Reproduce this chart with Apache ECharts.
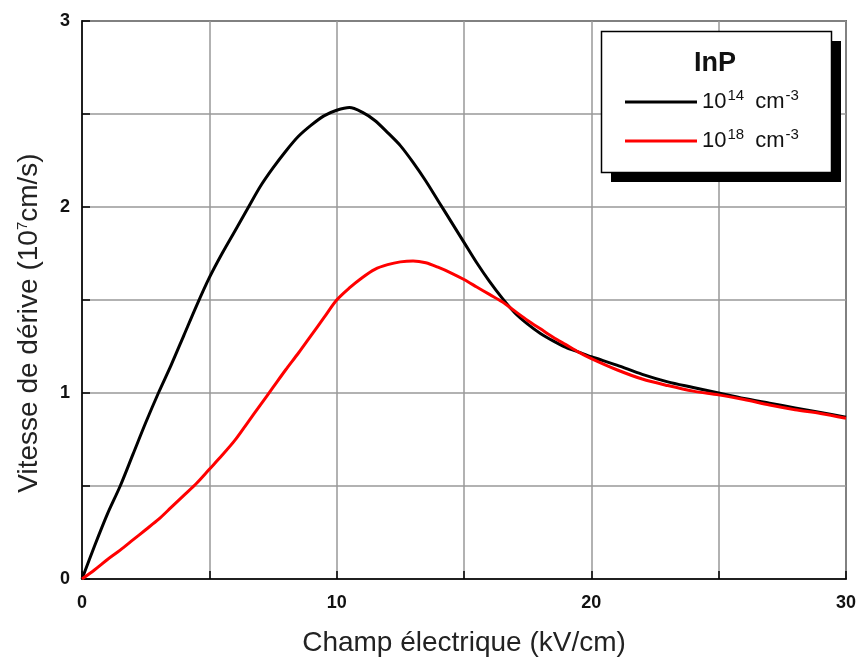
<!DOCTYPE html>
<html>
<head>
<meta charset="utf-8">
<script src="https://cdn.jsdelivr.net/npm/echarts@6/dist/echarts.min.js"></script>
<style>html,body{margin:0;padding:0;background:#fff}#c{width:857px;height:661px}</style>
</head>
<body>
<div id="c"></div>
<script>
// Electric field (kV/cm)
const fieldKV = [0,0.5,1,1.5,2,2.5,3,3.5,4,4.5,5,5.5,6,6.5,7,7.5,8,8.5,9,9.5,10,10.5,11,11.5,12,12.5,13,13.5,14,14.5,15,15.5,16,16.5,17,17.5,18,18.5,19,19.5,20,21,22,23,24,25,26,27,28,29,30];
// Drift velocity (1e7 cm/s), doping 1e14 cm^-3
const v1e14 = [0,0.18,0.35,0.5,0.67,0.84,1.0,1.15,1.31,1.47,1.62,1.75,1.87,1.99,2.11,2.21,2.30,2.38,2.44,2.49,2.52,2.535,2.51,2.465,2.40,2.33,2.24,2.14,2.03,1.92,1.81,1.70,1.60,1.51,1.43,1.37,1.32,1.28,1.245,1.22,1.195,1.15,1.10,1.06,1.03,1.0,0.97,0.945,0.92,0.895,0.87];
// Drift velocity (1e7 cm/s), doping 1e18 cm^-3
const v1e18 = [0,0.05,0.105,0.155,0.21,0.265,0.32,0.385,0.45,0.515,0.59,0.665,0.745,0.84,0.935,1.03,1.125,1.215,1.31,1.405,1.50,1.565,1.62,1.665,1.69,1.705,1.71,1.70,1.675,1.645,1.61,1.57,1.53,1.49,1.44,1.39,1.345,1.30,1.26,1.22,1.185,1.125,1.075,1.04,1.01,0.99,0.965,0.935,0.91,0.89,0.864];
const seriesNames = ['1e14', '1e18'];
const seriesLabels = {'1e14': '10{sup|14} cm{sup|-3}', '1e18': '10{sup|18} cm{sup|-3}'};
const xTickLabels = [0, 10, 20, 30];
const yTickLabels = [0, 1, 2, 3];
const legendTitle = 'InP';
const xTitle = 'Champ électrique (kV/cm)';
const yTitle = 'Vitesse de dérive (10{sup|7}cm/s)';

const FONT = '"Liberation Sans", Arial, sans-serif';
const pairs = (ys) => fieldKV.map((x, i) => [x, ys[i]]);

const chart = echarts.init(document.getElementById('c'), null, {renderer: 'canvas'});
chart.setOption({
  animation: false,
  backgroundColor: '#fff',
  grid: {left: 82, right: 11, top: 21, bottom: 82, containLabel: false, outerBoundsMode: 'none',
         show: true, borderColor: '#000', borderWidth: 1.5, backgroundColor: 'transparent'},
  xAxis: {
    type: 'value', min: 0, max: 30, interval: 5,
    axisLine: {show: true, lineStyle: {color: '#000', width: 1.5}},
    axisTick: {show: true, inside: true, length: 8, lineStyle: {color: '#000', width: 1.5}},
    splitLine: {show: true, lineStyle: {color: '#999', width: 1.5}},
    axisLabel: {
      margin: 15, color: '#111', fontSize: 18, fontWeight: 'bold', fontFamily: FONT,
      formatter: (v) => xTickLabels.includes(v) ? String(v) : ''
    },
    name: xTitle, nameLocation: 'middle', nameGap: 50,
    nameTextStyle: {fontSize: 28, color: '#222', fontFamily: FONT}
  },
  yAxis: {
    type: 'value', min: 0, max: 3, interval: 0.5,
    axisLine: {show: true, lineStyle: {color: '#000', width: 1.5}},
    axisTick: {show: true, inside: true, length: 8, lineStyle: {color: '#000', width: 1.5}},
    splitLine: {show: true, lineStyle: {color: '#999', width: 1.5}},
    axisLabel: {
      margin: 12, color: '#111', fontSize: 18, fontWeight: 'bold', fontFamily: FONT,
      formatter: (v) => yTickLabels.includes(v) ? String(v) : ''
    },
    name: yTitle, nameLocation: 'middle', nameGap: 39,
    nameTextStyle: {
      fontSize: 28, color: '#222', fontFamily: FONT, padding: [0, 46, 0, 0],
      rich: {sup: {fontSize: 15, color: '#222', fontFamily: FONT, verticalAlign: 'top', lineHeight: 15}}
    }
  },
  legend: {
    orient: 'vertical', left: 625, top: 88, padding: 0, itemGap: 11,
    itemWidth: 72, itemHeight: 3, icon: 'rect',
    data: seriesNames,
    formatter: (n) => seriesLabels[n],
    textStyle: {
      fontSize: 22, color: '#111', fontFamily: FONT, lineHeight: 28,
      rich: {sup: {fontSize: 15, color: '#111', fontFamily: FONT, verticalAlign: 'top', lineHeight: 15, padding: [0, 5, 0, 1]}}
    },
    z: 20
  },
  graphic: [
    {type: 'rect', z: 10, shape: {x: 611, y: 41, width: 230, height: 141}, style: {fill: '#000'}},
    {type: 'rect', z: 11, shape: {x: 601.5, y: 31.5, width: 230, height: 141}, style: {fill: '#fff', stroke: '#000', lineWidth: 1.5}},
    {type: 'text', z: 12, x: 715, y: 64, style: {text: legendTitle, fontSize: 27, fontWeight: 'bold', fontFamily: FONT, fill: '#111', align: 'center', verticalAlign: 'middle'}}
  ],
  series: [
    {name: seriesNames[0], type: 'line', data: pairs(v1e14), symbol: 'none', smooth: 0.3,
     lineStyle: {color: '#000', width: 3}, itemStyle: {color: '#000'}},
    {name: seriesNames[1], type: 'line', data: pairs(v1e18), symbol: 'none', smooth: 0.3,
     lineStyle: {color: '#ff0000', width: 3}, itemStyle: {color: '#ff0000'}}
  ]
});
</script>
</body>
</html>
